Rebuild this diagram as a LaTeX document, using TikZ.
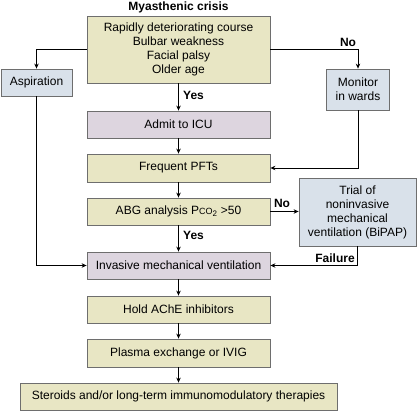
\documentclass[tikz,border=0pt]{standalone}
\usepackage{fontspec}
\setmainfont{Liberation Sans}
\usetikzlibrary{arrows.meta}
\definecolor{boxgreen}{HTML}{E8E6C4}
\definecolor{boxlilac}{HTML}{DDD5DF}
\definecolor{boxblue}{HTML}{D9E1EA}
\definecolor{boxline}{HTML}{6E6E6E}
\tikzset{
  stepbox/.style={draw=boxline,line width=0.8pt,fill=boxgreen,align=center,
    inner sep=0pt,font=\fontsize{12}{14}\selectfont},
  icubox/.style={stepbox,fill=boxlilac},
  sidebox/.style={stepbox,fill=boxblue},
  arr/.style={line width=0.9pt,-{Stealth[length=5pt,width=4.5pt]}},
  lbl/.style={font=\fontsize{12}{13}\selectfont\bfseries,inner sep=0pt}
}
\begin{document}
\begin{tikzpicture}[x=1pt,y=-1pt]
  \useasboundingbox (0,0) rectangle (417,411);
  \def\W{183} \def\H{27}
  % title
  \node[lbl,anchor=base] (title) at (178.5,10.5) {Myasthenic crisis};
  % main column
  \node[stepbox,minimum width=\W,minimum height=67] (crisis) at (178.5,49.5)
    {Rapidly deteriorating course\\Bulbar weakness\\Facial palsy\\Older age};
  \node[icubox,minimum width=\W,minimum height=\H] (icu) at (178.5,124.5) {Admit to ICU};
  \node[stepbox,minimum width=\W,minimum height=28] (pfts) at (178.5,168) {Frequent PFTs};
  \node[stepbox,minimum width=\W,minimum height=\H] (abg) at (178.5,211.5)
    {ABG analysis P{\fontsize{9}{10}\selectfont CO}\textsubscript{2} >50};
  \node[icubox,minimum width=\W,minimum height=\H] (imv) at (178.5,265.5) {Invasive mechanical ventilation};
  \node[stepbox,minimum width=\W,minimum height=\H] (ache) at (178.5,309.5) {Hold AChE inhibitors};
  \node[stepbox,minimum width=\W,minimum height=28] (plasma) at (178.5,353) {Plasma exchange or IVIG};
  \node[stepbox,minimum width=317,minimum height=\H] (steroid) at (178.5,396.5)
    {Steroids and/or long-term immunomodulatory therapies};
  % side boxes
  \node[sidebox,minimum width=71,minimum height=\H] (aspir) at (36.5,82.5) {Aspiration};
  \node[sidebox,minimum width=63,minimum height=41] (monitor) at (358,89.5) {Monitor\\in wards};
  \node[sidebox,minimum width=117,minimum height=68] (trial) at (357.5,212)
    {Trial of\\noninvasive\\mechanical\\ventilation (BiPAP)};
  % connectors
  \draw[arr] (crisis.west) -| (aspir.north);
  \draw[arr] (crisis.east) -| (monitor.north);
  \draw[arr] (crisis) -- (icu);
  \draw[arr] (icu) -- (pfts);
  \draw[arr] (monitor.south) |- (pfts.east);
  \draw[arr] (pfts) -- (abg);
  \draw[arr] (abg.east) -- (abg.east -| trial.west);
  \draw[arr] (abg) -- (imv);
  \draw[arr] (aspir.south) |- (imv.west);
  \draw[arr] (trial.south) |- (imv.east);
  \draw[arr] (imv) -- (ache);
  \draw[arr] (ache) -- (plasma);
  \draw[arr] (plasma) -- (steroid);
  % branch labels
  \node[lbl,anchor=west] (yes1) at (183,95) {Yes};
  \node[lbl] (no1) at (348,42) {No};
  \node[lbl] (no2) at (282,203) {No};
  \node[lbl,anchor=west] (yes2) at (183,235) {Yes};
  \node[lbl] (fail) at (335,258) {Failure};
\end{tikzpicture}
\end{document}
